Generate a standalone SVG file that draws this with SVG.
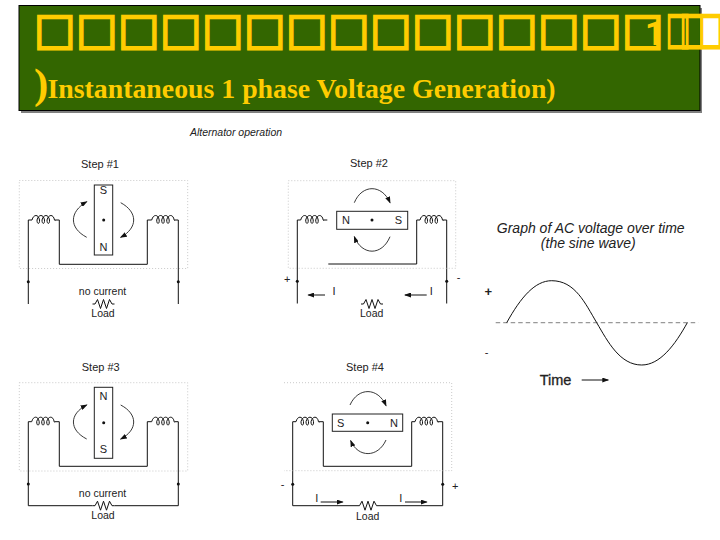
<svg xmlns="http://www.w3.org/2000/svg" width="720" height="540" viewBox="0 0 720 540">
<style>
.w{fill:none;stroke:#111;stroke-width:1}
.arc{fill:none;stroke:#222;stroke-width:.9}
.dot{stroke:#bbb;stroke-width:.8;stroke-dasharray:1 2;fill:none}
.mag{fill:#fff;stroke:#222;stroke-width:1}
.t{font-family:"Liberation Sans",Arial,sans-serif;font-size:10.5px;fill:#222;text-anchor:middle}
.p{font-family:"Liberation Sans",Arial,sans-serif;font-size:11px;fill:#222;text-anchor:middle}
.g{font-family:"Liberation Sans",Arial,sans-serif;font-size:14px;font-style:italic;fill:#222;text-anchor:middle}
.h{font-family:"Liberation Serif","Times New Roman",serif;font-weight:bold;fill:#FFCC00}
.tf{font-family:"DejaVu Sans",sans-serif;font-size:44px;fill:#FFCC00;stroke:#FFCC00;stroke-width:2}
</style>
<defs>
<marker id="ah" markerWidth="7" markerHeight="5" refX="6" refY="2.500" orient="auto" markerUnits="userSpaceOnUse"><path d="M0 0L7 2.500L0 5z" fill="#111"/></marker>
<path id="coil" class="w" d="M0 0c1.500-6 6.500-6 7.500 0c.5 4-2.500 5-2.500 0c1.500-6 6.500-6 7.500 0c.5 4-2.500 5-2.500 0c1.500-6 6.500-6 7.500 0c.5 4-2.500 5-2.500 0c1.500-6 6.500-6 7.500 0c.2 .4 .4 .5 .8 .5"/>
<path id="res" class="w" d="M0 0L2.500 0L5-4.500L8 4.500L11-4.500L14 4.500L17-4.500L19.500 0L22 0"/>
</defs>
<g id="title">
<rect x="21" y="8" width="681" height="105" fill="#808080"/>
<rect x="19" y="5.500" width="681" height="105" fill="#336600" stroke="#000" stroke-width="1"/>
<text class="tf" y="43.500" x="34 76 118 160 202 244 286 328 370 412 454 496 538 580 622">□□□□□□□□□□□□□□□</text>
<text class="tf" y="43.500" transform="translate(666 0) scale(.58 1)" x="0">□</text>
<text class="tf" y="43.500" transform="translate(680 0) scale(.58 1)" x="0">□</text>
<text class="tf" y="43.500" transform="translate(699 0) scale(.58 1)" x="0">□</text>
<text x="645" y="45" font-size="34" font-weight="bold" fill="#FFCC00" style="font-family:Roboto,sans-serif">1</text>
<text class="h" x="34" y="97.700" font-size="43">)</text>
<text class="h" x="47.500" y="98" font-size="27.800">Instantaneous 1 phase Voltage Generation)</text>
</g>
<text class="g" style="font-size:10.500px" x="236" y="136">Alternator operation</text>
<g id="connectors">
<g id="wires-1"><path class="w" d="M28.300 304V220H32M54.800 220H59.300V264.300H147.300V220H151.700M174.500 220H178.300V304"/></g>
<g id="wires-2"><path class="w" d="M297.300 303.500V220H300.700M323.500 220H327.300M328.300 264H416.700V220H420M442.800 220H446.700V303.500"/></g>
<g id="wires-3"><path class="w" d="M28.300 505.700V421.700H31.700M54.500 421.700H59.300V466.300H147.300V421.700H151.700M174.500 421.700H178.300V505.700H114.500M92.500 505.700H28.300"/></g>
<g id="wires-4"><path class="w" d="M292.700 505.700V421.700H296M318.800 421.700H323.300V466.300H411.700V421.700H415M437.800 421.700H442.700V505.700H379M357 505.700H292.700"/></g>
<g id="arcs">
<path class="arc" marker-end="url(#ah)" d="M86.700 237.300C69 228 69 212 86.700 201.700"/>
<path class="arc" marker-end="url(#ah)" d="M120.700 202.700C138 212 138 228 120.700 237.300"/>
<path class="arc" marker-end="url(#ah)" d="M354.300 202.700C362 184 382 184 390 202.700"/>
<path class="arc" marker-end="url(#ah)" d="M390 236.700C382 256 362 256 354.300 236.700"/>
<path class="arc" marker-end="url(#ah)" d="M86.700 439C69 430 69 414 86.700 405"/>
<path class="arc" marker-end="url(#ah)" d="M120.700 405C138 414 138 430 120.700 439"/>
<path class="arc" marker-end="url(#ah)" d="M350 405C358 387 378 387 386 405.700"/>
<path class="arc" marker-end="url(#ah)" d="M386 440C378 458 358 458 350.700 440.700"/>
<path class="w" marker-end="url(#ah)" d="M325 295H308.300"/>
<path class="w" marker-end="url(#ah)" d="M426.700 295H405"/>
<path class="w" marker-end="url(#ah)" d="M320.700 502H342.700"/>
<path class="w" marker-end="url(#ah)" d="M405 502H426.700"/>
<path class="w" marker-end="url(#ah)" d="M581.700 380H608.300"/>
</g>
</g>
<g id="step1">
<text class="p" x="100" y="168">Step #1</text>
<rect class="dot" x="19.300" y="180.500" width="168.400" height="88"/>
<use href="#coil" x="32" y="220"/><use href="#coil" x="151.700" y="220"/>
<rect class="mag" x="94.300" y="185" width="18.400" height="70"/>
<text class="p" x="103.500" y="194">S</text><text class="p" x="103.500" y="251">N</text><circle cx="103.700" cy="220" r="1.500" fill="#111"/>
<circle cx="28.300" cy="281.700" r="1.500" fill="#111"/><circle cx="178.300" cy="281.700" r="1.500" fill="#111"/>
<text class="t" x="102.500" y="295">no current</text><use href="#res" x="92.500" y="304"/><text class="t" x="103" y="317">Load</text>
</g>
<g id="step2">
<text class="p" x="369" y="167">Step #2</text>
<rect class="dot" x="288.300" y="180.700" width="167.400" height="87.600"/>
<use href="#coil" x="300.700" y="220"/><use href="#coil" x="420" y="220"/>
<rect class="mag" x="336.700" y="211.300" width="71" height="18"/>
<text class="p" x="346" y="224">N</text><text class="p" x="398.300" y="224">S</text><circle cx="372" cy="220" r="1.500" fill="#111"/>
<circle cx="297.300" cy="281.300" r="1.500" fill="#111"/><circle cx="446.700" cy="281.300" r="1.500" fill="#111"/>
<text class="p" x="287.300" y="283">+</text><text class="p" x="458.700" y="281">-</text>
<text class="p" x="334" y="295">I</text><text class="p" x="431.300" y="295">I</text>
<use href="#res" x="361" y="304"/><text class="t" x="371.700" y="317">Load</text>
</g>
<g id="step3">
<text class="p" x="100.700" y="370.500">Step #3</text>
<rect class="dot" x="19.300" y="382.700" width="168.400" height="88.300"/>
<use href="#coil" x="31.700" y="421.700"/><use href="#coil" x="151.700" y="421.700"/>
<rect class="mag" x="94.300" y="387.300" width="18.400" height="71"/>
<text class="p" x="103.500" y="400">N</text><text class="p" x="103.500" y="453">S</text><circle cx="103.700" cy="422.700" r="1.500" fill="#111"/>
<circle cx="28.300" cy="484" r="1.500" fill="#111"/><circle cx="178.300" cy="484" r="1.500" fill="#111"/>
<text class="t" x="102.500" y="497">no current</text><use href="#res" x="92.500" y="505.700"/><text class="t" x="103" y="519">Load</text>
</g>
<g id="step4">
<text class="p" x="365" y="370.500">Step #4</text>
<path class="dot" d="M284 382.700H451.700V470.700H284"/>
<use href="#coil" x="296" y="421.700"/><use href="#coil" x="415" y="421.700"/>
<rect class="mag" x="332.300" y="414" width="70.400" height="17.300"/>
<text class="p" x="340.700" y="427">S</text><text class="p" x="394" y="427">N</text><circle cx="367.700" cy="422.700" r="1.500" fill="#111"/>
<circle cx="292.700" cy="484.300" r="1.500" fill="#111"/><circle cx="442.700" cy="484.300" r="1.500" fill="#111"/>
<text class="p" x="282.700" y="488">-</text><text class="p" x="455.300" y="490">+</text>
<text class="p" x="316.700" y="502">I</text><text class="p" x="400.700" y="502">I</text>
<use href="#res" x="357" y="505.700"/><text class="t" x="367.700" y="519.500">Load</text>
</g>
<g id="graph">
<text class="g" x="590.700" y="233">Graph of AC voltage over time</text>
<text class="g" x="588.300" y="248">(the sine wave)</text>
<path d="M495.700 322.700H698.300" fill="none" stroke="#999" stroke-width="1.200" stroke-dasharray="4.500 3"/>
<path d="M506.700 322.700C521 297 535 280.700 551.700 280.700C575 280.700 585 303 596.700 322.700C608 342 620 365 641.700 365C660 365 675 345 687.300 322.700" fill="none" stroke="#111" stroke-width="1"/>
<text class="p" style="font-size:13px;font-weight:bold" x="488.300" y="296">+</text>
<text class="p" x="486.700" y="356">-</text>
<text class="p" style="font-size:14.500px;stroke:#222;stroke-width:.3" x="555.500" y="385">Time</text>
</g>
</svg>
